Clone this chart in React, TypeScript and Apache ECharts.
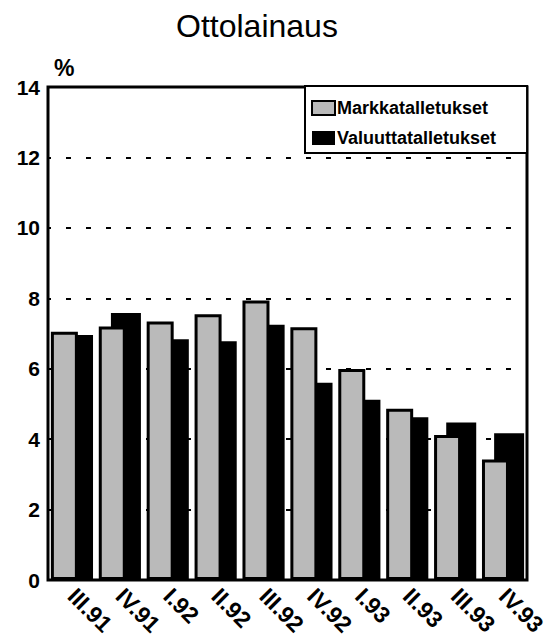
import React, { useEffect, useRef } from "react";
import * as echarts from "echarts";

const categories = ["III.91", "IV.91", "I.92", "II.92", "III.92", "IV.92", "I.93", "II.93", "III.93", "IV.93"];
const markkatalletukset = [7.05, 7.2, 7.34, 7.55, 7.94, 7.18, 5.99, 4.86, 4.12, 3.42];
const valuuttatalletukset = [6.96, 7.58, 6.84, 6.78, 7.25, 5.6, 5.12, 4.62, 4.47, 4.17];
const yTicks = { min: 0, max: 14, interval: 2 };

const FONT = "'Liberation Sans', Arial, Helvetica, sans-serif";

export default function App() {
  const ref = useRef<HTMLDivElement>(null);
  useEffect(() => {
    if (!ref.current) return;
    const chart = echarts.init(ref.current, undefined, { renderer: "svg" });
    chart.setOption({
      animation: false,
      backgroundColor: "#fff",
      textStyle: { fontFamily: FONT },
      title: {
        text: "Ottolainaus",
        left: 176,
        top: 10,
        padding: 0,
        textStyle: { fontFamily: FONT, fontSize: 32, fontWeight: "normal", color: "#000" },
      },
      legend: {
        orient: "vertical",
        left: 305,
        top: 86,
        align: "left",
        padding: [13, 31, 6, 6],
        itemGap: 12,
        itemWidth: 23,
        itemHeight: 14,
        backgroundColor: "#fff",
        borderColor: "#000",
        borderWidth: 2,
        icon: "rect",
        textStyle: { fontFamily: FONT, fontSize: 18, fontWeight: "bold", color: "#000", padding: [0, 0, 0, -3] },
        data: ["Markkatalletukset", "Valuuttatalletukset"],
      },
      grid: {
        left: 48,
        right: 26,
        top: 87,
        bottom: 60,
        show: true,
        borderColor: "#000",
        borderWidth: 3,
        containLabel: false,
      },
      xAxis: {
        type: "category",
        data: categories,
        axisLine: { show: false },
        axisTick: { show: false },
        axisLabel: {
          rotate: -45,
          align: "left",
          verticalAlign: "middle",
          margin: 12,
          fontFamily: FONT,
          fontSize: 23,
          fontWeight: "bold",
          color: "#000",
          interval: 0,
        },
      },
      yAxis: {
        type: "value",
        min: yTicks.min,
        max: yTicks.max,
        interval: yTicks.interval,
        name: "%",
        nameLocation: "end",
        nameGap: 8,
        nameTextStyle: { fontFamily: FONT, fontSize: 23, fontWeight: "bold", color: "#000", align: "left", padding: [0, 0, 0, 6] },
        axisLine: { show: false },
        axisTick: { show: false },
        axisLabel: { margin: 8, fontFamily: FONT, fontSize: 21, fontWeight: "bold", color: "#000" },
        splitLine: { show: true, lineStyle: { color: "#000", width: 2, type: [5, 15], dashOffset: 2 } },
      },
      series: [
        {
          name: "Markkatalletukset",
          type: "bar",
          data: markkatalletukset,
          barWidth: 27,
          barGap: "-55%",
          z: 4,
          itemStyle: { color: "#bababa", borderColor: "#000", borderWidth: 3 },
        },
        {
          name: "Valuuttatalletukset",
          type: "bar",
          data: valuuttatalletukset,
          barWidth: 30,
          z: 3,
          itemStyle: { color: "#000" },
        },
      ],
    });
    return () => chart.dispose();
  }, []);
  return <div ref={ref} style={{ position: "fixed", left: 0, top: 0, width: 553, height: 640 }} />;
}
